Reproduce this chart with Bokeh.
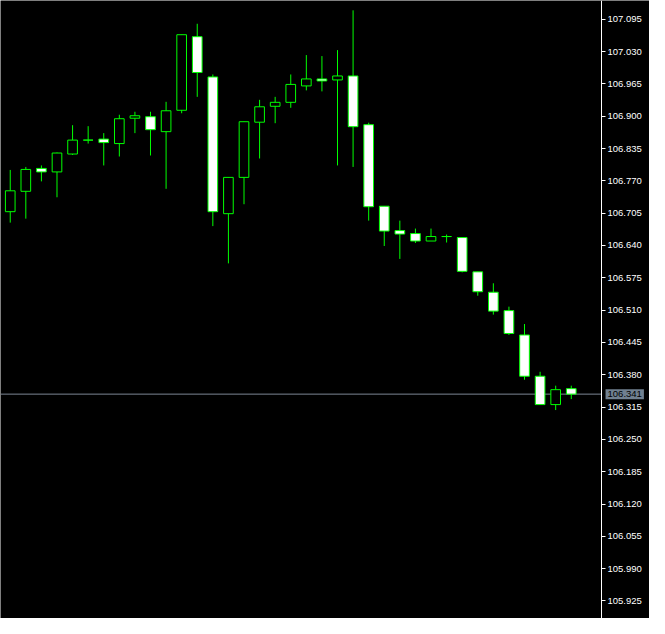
from bokeh.plotting import figure
from bokeh.models import FixedTicker, Label, NumeralTickFormatter, Range1d
from bokeh.embed import file_html
from bokeh.resources import INLINE

# OHLC data
opens = [106.708, 106.749, 106.795, 106.788, 106.824, 106.852, 106.854, 106.845, 106.896, 106.899,
         106.869, 106.912, 107.060, 106.979, 106.704, 106.777, 106.888, 106.920, 106.928, 106.961,
         106.975, 106.973, 106.981, 106.883, 106.719, 106.670, 106.664, 106.649, 106.658, 106.656,
         106.587, 106.546, 106.509, 106.460, 106.377, 106.320, 106.352]
highs = [106.792, 106.798, 106.801, 106.827, 106.882, 106.880, 106.866, 106.903, 106.909, 106.909,
         106.929, 107.064, 107.086, 106.984, 106.777, 106.889, 106.933, 106.939, 106.984, 107.023,
         107.021, 107.033, 107.113, 106.887, 106.719, 106.690, 106.674, 106.674, 106.662, 106.656,
         106.587, 106.564, 106.517, 106.482, 106.386, 106.358, 106.358]
lows = [106.686, 106.694, 106.769, 106.737, 106.822, 106.845, 106.801, 106.819, 106.866, 106.821,
        106.754, 106.906, 106.939, 106.679, 106.604, 106.723, 106.815, 106.886, 106.917, 106.952,
        106.950, 106.801, 106.798, 106.690, 106.639, 106.613, 106.645, 106.649, 106.646, 106.586,
        106.539, 106.501, 106.460, 106.370, 106.320, 106.309, 106.331]
closes = [106.750, 106.793, 106.788, 106.826, 106.852, 106.852, 106.847, 106.895, 106.901, 106.873,
          106.911, 107.064, 106.988, 106.708, 106.777, 106.889, 106.919, 106.928, 106.964, 106.975,
          106.971, 106.981, 106.879, 106.718, 106.669, 106.663, 106.649, 106.658, 106.658, 106.588,
          106.547, 106.508, 106.463, 106.377, 106.320, 106.350, 106.341]

tick_values = [105.925, 105.990, 106.055, 106.120, 106.185, 106.250, 106.315, 106.380, 106.445,
               106.510, 106.575, 106.640, 106.705, 106.770, 106.835, 106.900, 106.965, 107.030, 107.095]
last_price = 106.341
last_price_label = "106.341"

idx = list(range(len(opens)))
tops = [max(o, c) for o, c in zip(opens, closes)]
bottoms = [min(o, c) for o, c in zip(opens, closes)]
fills = ["black" if c > o else "white" for o, c in zip(opens, closes)]

GREEN = "#00ff00"
X0, X1 = -0.625, 41.02       # full frame (chart area + price scale area)
AXIS_X = 37.94               # where the price scale sits

p = figure(width=649, height=618, output_backend="svg", toolbar_location=None,
           x_range=Range1d(X0, X1), y_range=Range1d(105.8897, 107.1328),
           x_axis_location=None, y_axis_location="right",
           background_fill_color="black", border_fill_color="black",
           min_border_left=0, min_border_top=0, min_border_bottom=0, min_border_right=0)
p.outline_line_color = None
p.grid.visible = False

ax = p.yaxis[0]
ax.fixed_location = AXIS_X
ax.ticker = FixedTicker(ticks=tick_values)
ax.formatter = NumeralTickFormatter(format="0.000")
ax.axis_line_color = "white"
ax.major_tick_line_color = "white"
ax.major_tick_in = 0
ax.major_tick_out = 4
ax.minor_tick_line_color = None
ax.major_label_text_color = "white"
ax.major_label_text_font = "Liberation Sans"
ax.major_label_text_font_size = "9.5px"
ax.major_label_standoff = 2

# current price line, from the left edge to the price scale
p.segment(x0=[X0], y0=[last_price], x1=[AXIS_X], y1=[last_price],
          line_color="#7d8794", line_width=1, level="underlay")

p.segment(x0=idx, y0=lows, x1=idx, y1=highs, line_color=GREEN, line_width=1)
p.vbar(x=idx, width=0.62, top=tops, bottom=bottoms, fill_color=fills, line_color=GREEN, line_width=1)

lbl = Label(x=AXIS_X + 0.26, y=last_price, text=last_price_label,
            text_baseline="middle", text_align="left", text_color="black",
            text_font="Liberation Sans", text_font_size="9.5px",
            background_fill_color="#708090", padding=2, level="overlay")
p.add_layout(lbl)

open("out.html", "w").write(file_html(p, INLINE))
